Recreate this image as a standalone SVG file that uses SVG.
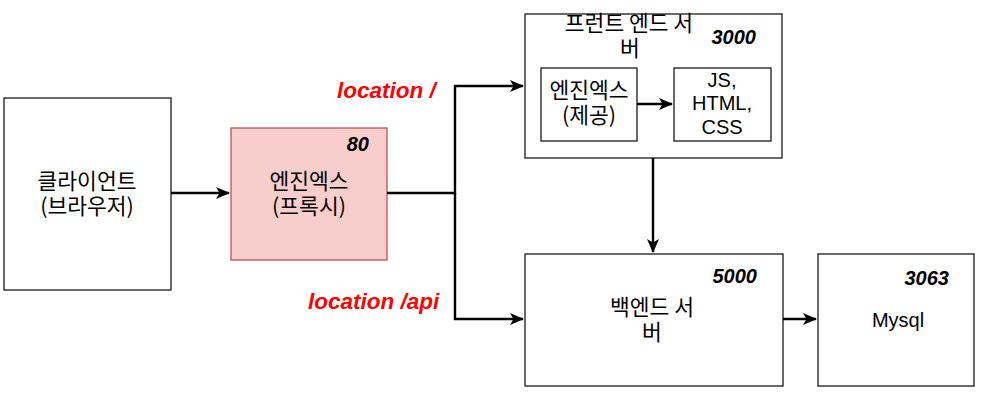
<svg xmlns="http://www.w3.org/2000/svg" width="982" height="402" viewBox="0 0 982 402">
<style>
.box{fill:#ffffff;stroke:#1a1a1a;stroke-width:1.3}
.proxy{fill:#f8cecc;stroke:#b85450;stroke-width:1.3}
.t{font-family:"Liberation Sans","Noto Sans CJK KR",Arial,sans-serif;font-size:20px;fill:#000;text-anchor:middle}
.k{font-family:"Noto Sans CJK KR","Liberation Sans",sans-serif;font-size:21.5px;fill:#000;text-anchor:middle}
.port{font-family:"Liberation Sans",Arial,sans-serif;font-size:20px;font-weight:bold;font-style:italic;fill:#000;text-anchor:end}
.loc{font-family:"Liberation Sans",Arial,sans-serif;font-size:22.5px;font-weight:bold;font-style:italic;fill:#ff0000}
.edge{fill:none;stroke:#000;stroke-width:2.4}
</style>
<defs>
<marker id="arr" markerUnits="userSpaceOnUse" markerWidth="14" markerHeight="14" viewBox="0 0 14 14" refX="13" refY="7" orient="auto">
<path d="M0,1 L14,7 L0,13 L3.5,7 z" fill="#000"/>
</marker>
</defs>
<g id="client">
<rect class="box" x="4" y="98" width="167" height="192"/>
<text class="k" x="87" y="189">클라이언트</text>
<text class="k" x="87" y="214">(브라우저)</text>
</g>
<g id="proxy">
<rect class="proxy" x="231" y="128" width="156" height="132"/>
<text class="port" x="369" y="151">80</text>
<text class="k" x="309" y="189">엔진엑스</text>
<text class="k" x="309" y="214">(프록시)</text>
</g>
<g id="frontend">
<rect class="box" x="525" y="14" width="257" height="144"/>
<text class="k" x="629" y="31">프런트 엔드 서</text>
<text class="k" x="630" y="56">버</text>
<text class="port" x="756" y="44">3000</text>
</g>
<g id="nginx-serve">
<rect class="box" x="541" y="68" width="96" height="73"/>
<text class="k" x="589" y="98">엔진엑스</text>
<text class="k" x="589" y="123">(제공)</text>
</g>
<g id="static">
<rect class="box" x="674" y="68" width="97" height="73"/>
<text class="t" x="722" y="87">JS,</text>
<text class="t" x="722" y="110">HTML,</text>
<text class="t" x="722" y="134">CSS</text>
</g>
<g id="backend">
<rect class="box" x="525" y="254" width="258" height="132"/>
<text class="port" x="757" y="283">5000</text>
<text class="k" x="652" y="315">백엔드 서</text>
<text class="k" x="652" y="340">버</text>
</g>
<g id="mysql">
<rect class="box" x="818" y="254" width="156" height="132"/>
<text class="port" x="949" y="285">3063</text>
<text class="t" x="898" y="327">Mysql</text>
</g>
<g id="connectors">
<path class="edge" d="M171,193 L229,193" marker-end="url(#arr)"/>
<path class="edge" d="M387,193 L455,193 L455,86 L523,86" marker-end="url(#arr)"/>
<path class="edge" d="M455,193 L455,319 L523,319" marker-end="url(#arr)"/>
<path class="edge" d="M637,104 L672,104" marker-end="url(#arr)"/>
<path class="edge" d="M653,158 L653,252" marker-end="url(#arr)"/>
<path class="edge" d="M783,319 L816,319" marker-end="url(#arr)"/>
<text class="loc" x="337" y="98">location /</text>
<text class="loc" x="308" y="309">location /api</text>
</g>
</svg>
